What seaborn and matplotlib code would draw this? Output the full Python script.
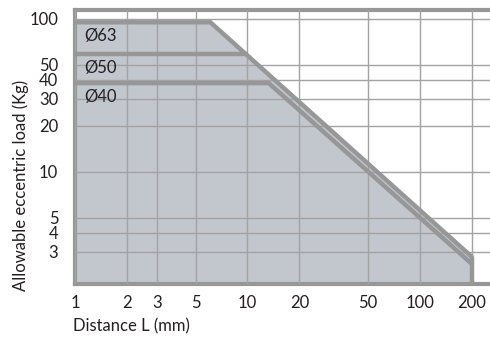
import numpy as np
import pandas as pd
import matplotlib
matplotlib.use('Agg')
import matplotlib.pyplot as plt
from matplotlib.ticker import FixedLocator, NullLocator, FixedFormatter
import seaborn as sns

# ---------------------------------------------------------
# data
# ---------------------------------------------------------
x_ticks = [1, 2, 3, 5, 10, 20, 50, 100, 200]
y_ticks = [3, 4, 5, 10, 20, 30, 40, 50, 100]

dist_63 = [1, 6.1, 200]
load_63 = [95, 95, 2.78]

dist_50 = [1, 9.7]
load_50 = [59, 59]

dist_40 = [1, 13.3, 200]
load_40 = [38, 38, 2.5]

max_stroke = 200

series_names = ['Ø63', 'Ø50', 'Ø40']
label_x = [1.13, 1.13, 1.13]
label_y = [77, 48, 31]

x_min, x_max = 1, 255
y_min, y_max = 1.85, 115

LINE = '#979797'
FILL = '#c1c7cc'
GRID = '#a3a3a3'
TEXT = '#231f20'

# ---------------------------------------------------------
# plot
# ---------------------------------------------------------
sns.set_style('white')
plt.rcParams['font.family'] = ['Lato', 'DejaVu Sans']

fig = plt.figure(figsize=(4.9, 3.42), dpi=100)
ax = fig.add_axes([0.153, 0.170, 0.847, 0.802])
ax.set_xscale('log')
ax.set_yscale('log')
ax.set_xlim(x_min, x_max)
ax.set_ylim(y_min, y_max)

# shaded envelope under the largest bore
ax.fill_between(dist_63 + [max_stroke], load_63 + [y_min], y_min,
                color=FILL, lw=0, zorder=1)

ax.xaxis.set_major_locator(FixedLocator(x_ticks))
ax.yaxis.set_major_locator(FixedLocator(y_ticks))
ax.xaxis.set_minor_locator(NullLocator())
ax.yaxis.set_minor_locator(NullLocator())
ax.xaxis.set_major_formatter(FixedFormatter([str(v) for v in x_ticks]))
ax.yaxis.set_major_formatter(FixedFormatter([str(v) for v in y_ticks]))
ax.grid(True, color=GRID, lw=1.0, zorder=2)
ax.set_axisbelow(False)
for gl in ax.get_xgridlines() + ax.get_ygridlines():
    gl.set_zorder(2)

frames = [
    pd.DataFrame({'dist': dist_63, 'load': load_63}),
    pd.DataFrame({'dist': dist_50, 'load': load_50}),
    pd.DataFrame({'dist': dist_40, 'load': load_40}),
]
for df in frames:
    sns.lineplot(data=df, x='dist', y='load', ax=ax, sort=False,
                 estimator=None, color=LINE, lw=3.2, zorder=3)
ax.vlines(max_stroke, y_min, max(load_63[-1], load_40[-1]),
          color=LINE, lw=3.2, zorder=3)

for name, lx, ly in zip(series_names, label_x, label_y):
    ax.text(lx, ly, name, fontsize=12, color=TEXT, va='center',
            ha='left', zorder=4)

ax.tick_params(axis='both', length=0, labelsize=12, colors=TEXT)
ax.tick_params(axis='x', pad=8)
ax.tick_params(axis='y', pad=12)
ax.set_xlabel('Distance L (mm)', fontsize=12, color=TEXT)
ax.set_ylabel('Allowable eccentric load (Kg)', fontsize=12, color=TEXT)
ax.xaxis.set_label_coords(-0.005, -0.155)
ax.xaxis.label.set_horizontalalignment('left')
ax.xaxis.label.set_verticalalignment('center')
ax.yaxis.set_label_coords(-0.130, 0.36)
ax.yaxis.label.set_verticalalignment('center')

for side in ['left', 'bottom', 'top']:
    ax.spines[side].set_color(LINE)
    ax.spines[side].set_linewidth(3)
ax.spines['right'].set_visible(False)

plt.savefig('out.png', dpi=100)
